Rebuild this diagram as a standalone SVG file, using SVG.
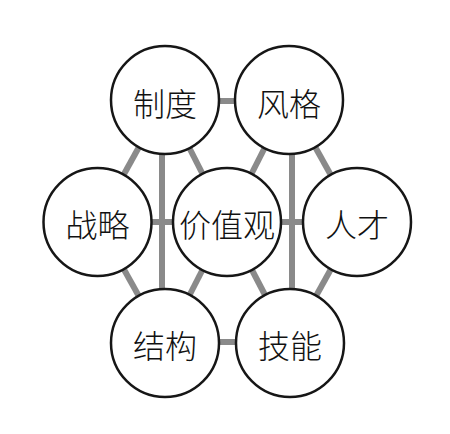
<svg xmlns="http://www.w3.org/2000/svg" width="450" height="434" viewBox="0 0 450 434">
<style>
.c{fill:#fff;stroke:#161616;stroke-width:2.5}
.t{font-family:"Noto Sans CJK SC","Noto Sans",sans-serif;font-size:32px;font-weight:300;fill:#111;text-anchor:middle}
.l{stroke:#8a8a8a;stroke-width:6;fill:none}
</style>
<rect width="450" height="434" fill="#fff"/>
<g id="connectors" class="l">
<line x1="165" y1="101" x2="289" y2="101"/>
<line x1="97.5" y1="222" x2="357" y2="222"/>
<line x1="165" y1="342" x2="290" y2="342"/>
<line x1="162" y1="100" x2="162" y2="343"/>
<line x1="292" y1="100" x2="292" y2="343"/>
<line x1="165" y1="100" x2="97.5" y2="222"/>
<line x1="165" y1="100" x2="227" y2="222"/>
<line x1="289" y1="100" x2="227" y2="222"/>
<line x1="289" y1="100" x2="357" y2="222"/>
<line x1="97.5" y1="222" x2="165" y2="343"/>
<line x1="227" y1="222" x2="165" y2="343"/>
<line x1="227" y1="222" x2="290" y2="343"/>
<line x1="357" y1="222" x2="290" y2="343"/>
</g>
<g id="zhidu"><circle class="c" cx="165" cy="100" r="54"/><text class="t" x="165" y="116">制度</text></g>
<g id="fengge"><circle class="c" cx="289" cy="100" r="54"/><text class="t" x="289" y="116">风格</text></g>
<g id="zhanlue"><circle class="c" cx="97.5" cy="222" r="54"/><text class="t" x="97.5" y="237">战略</text></g>
<g id="jiazhiguan"><circle class="c" cx="227" cy="222" r="54"/><text class="t" x="227" y="237">价值观</text></g>
<g id="rencai"><circle class="c" cx="357" cy="222" r="54"/><text class="t" x="357" y="237">人才</text></g>
<g id="jiegou"><circle class="c" cx="165" cy="343" r="54"/><text class="t" x="165" y="358">结构</text></g>
<g id="jineng"><circle class="c" cx="290" cy="343" r="54"/><text class="t" x="290" y="358">技能</text></g>
</svg>
